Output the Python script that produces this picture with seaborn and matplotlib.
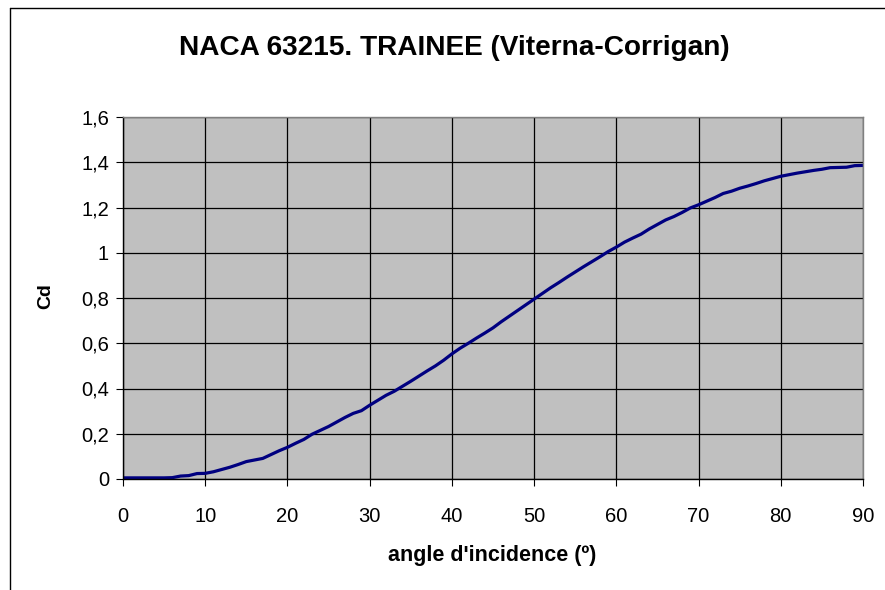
import pandas as pd
import seaborn as sns
import matplotlib.pyplot as plt
from matplotlib.lines import Line2D

# Data (drag coefficient vs angle of attack, 1 degree steps)
angle = list(range(0, 91))
cd = [0.005, 0.005, 0.005, 0.005, 0.005, 0.005, 0.006, 0.013, 0.015, 0.024,
      0.025, 0.032, 0.042, 0.052, 0.064, 0.077, 0.084, 0.091, 0.108, 0.125,
      0.140, 0.158, 0.175, 0.198, 0.215, 0.232, 0.252, 0.272, 0.290, 0.302,
      0.326, 0.348, 0.370, 0.388, 0.410, 0.432, 0.455, 0.478, 0.500, 0.525,
      0.553, 0.578, 0.600, 0.623, 0.645, 0.668, 0.695, 0.720, 0.745, 0.770,
      0.795, 0.820, 0.845, 0.868, 0.892, 0.915, 0.938, 0.960, 0.982, 1.005,
      1.025, 1.047, 1.065, 1.082, 1.105, 1.125, 1.145, 1.160, 1.178, 1.198,
      1.212, 1.228, 1.244, 1.262, 1.272, 1.285, 1.295, 1.306, 1.318, 1.328,
      1.338, 1.345, 1.352, 1.358, 1.364, 1.369, 1.376, 1.377, 1.378, 1.385,
      1.386]
x_ticks = [0, 10, 20, 30, 40, 50, 60, 70, 80, 90]
y_ticks = [0, 0.2, 0.4, 0.6, 0.8, 1.0, 1.2, 1.4, 1.6]
y_labels = ["0", "0,2", "0,4", "0,6", "0,8", "1", "1,2", "1,4", "1,6"]

df = pd.DataFrame({"angle": angle, "cd": cd})

sns.set_style("white")
plt.rcParams["font.family"] = ["Liberation Sans", "DejaVu Sans"]
plt.rcParams["text.color"] = "black"
plt.rcParams["axes.labelcolor"] = "black"
plt.rcParams["xtick.color"] = "black"
plt.rcParams["ytick.color"] = "black"

fig = plt.figure(figsize=(8.85, 5.9), dpi=100)
ax = fig.add_axes([123 / 885, 1 - 479 / 590, 740 / 885, 362 / 590])
ax.set_facecolor("#C0C0C0")

sns.lineplot(data=df, x="angle", y="cd", ax=ax, color="#000080", linewidth=2.3)

ax.set_xlim(0, 90)
ax.set_ylim(0, 1.6)
ax.set_xticks(x_ticks)
ax.set_yticks(y_ticks)
ax.set_yticklabels(y_labels)
ax.grid(True, color="black", linewidth=0.9)
ax.set_axisbelow(True)

ax.tick_params(axis="x", direction="out", length=5, width=0.8, color="black",
               labelsize=14.5, pad=15, bottom=True)
ax.tick_params(axis="y", direction="out", length=5, width=0.8, color="black",
               labelsize=14.5, pad=5, left=True)

for side in ["top", "right"]:
    ax.spines[side].set_color("#808080")
    ax.spines[side].set_linewidth(1)
for side in ["bottom", "left"]:
    ax.spines[side].set_color("black")
    ax.spines[side].set_linewidth(1)

ax.set_xlabel("")
ax.set_ylabel("")
fig.text(492 / 885, 1 - 556 / 590, "angle d'incidence (º)", fontsize=15.5,
         fontweight="bold", ha="center", va="center")
fig.text(46 / 885, 1 - 296 / 590, "Cd", rotation=90, fontsize=14, fontweight="bold",
         ha="center", va="center")

fig.text(454 / 885, 1 - 48 / 590, "NACA 63215. TRAINEE (Viterna-Corrigan)",
         fontsize=20.2, fontweight="bold", ha="center", va="center")

# chart frame (left and top edges visible)
fig.add_artist(Line2D([9.5 / 885, 9.5 / 885], [0, 1 - 7.5 / 590], color="black", lw=1))
fig.add_artist(Line2D([9.5 / 885, 1], [1 - 7.5 / 590, 1 - 7.5 / 590], color="black", lw=1))

fig.savefig("out.png", dpi=100)
